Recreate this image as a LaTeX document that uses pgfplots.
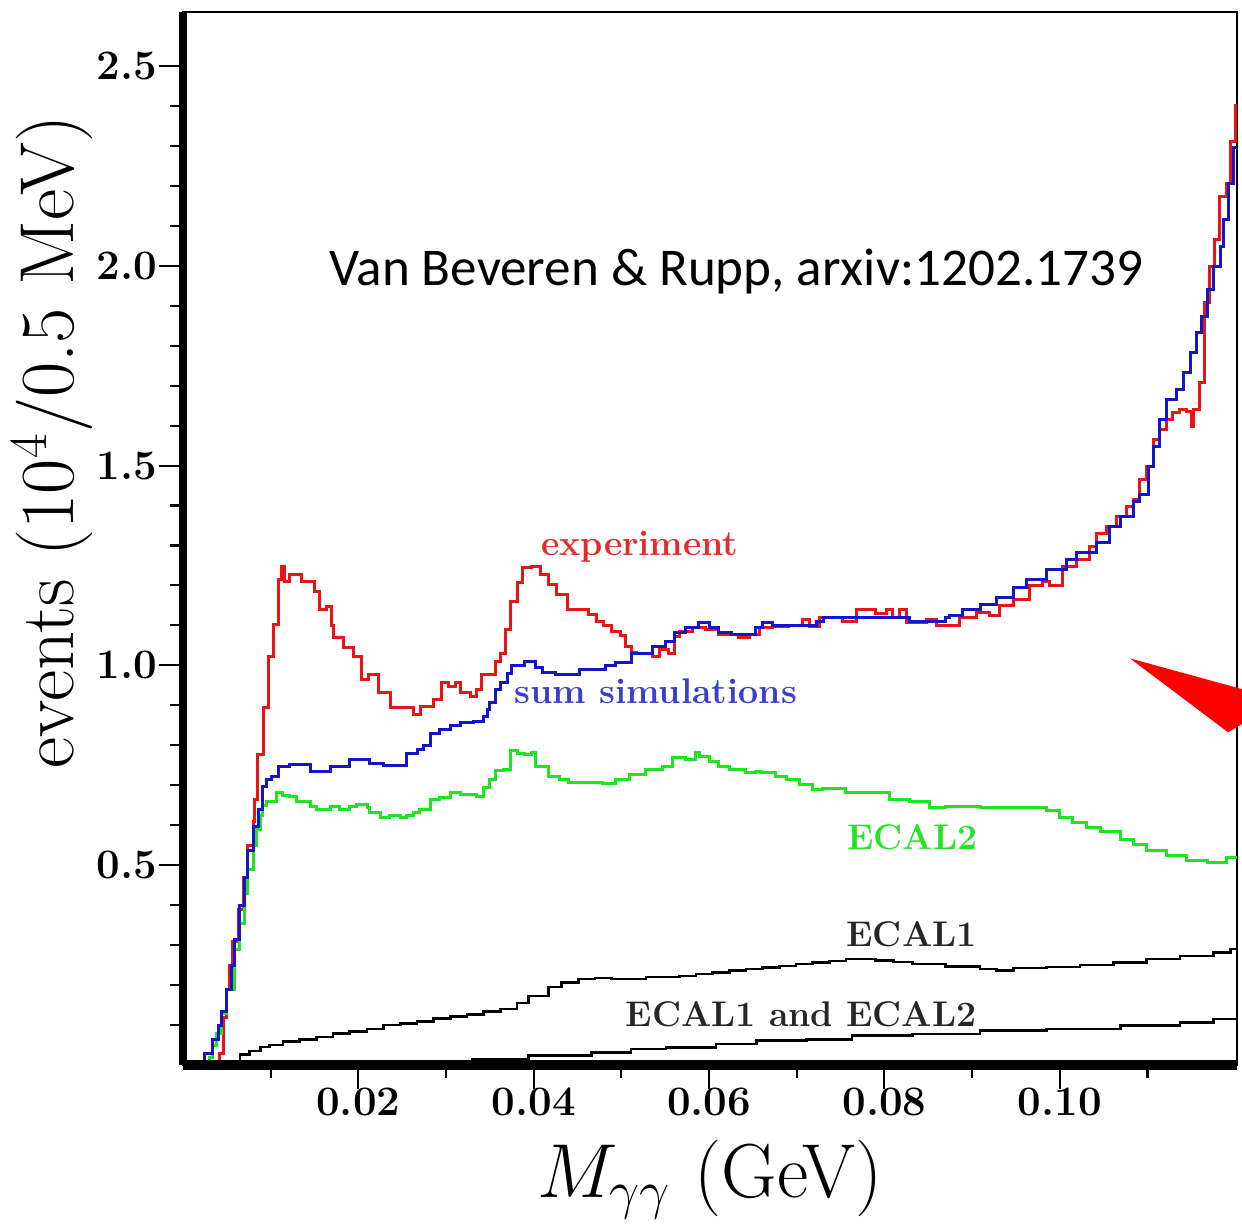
\RequirePackage{fix-cm}
\documentclass[border=0pt]{standalone}
\usepackage{fontspec}
\usepackage{pgfplots}
\pgfplotsset{compat=1.18}
\newfontfamily\calibri{Carlito}
\definecolor{expred}{RGB}{235,20,20}
\definecolor{simblue}{RGB}{20,20,200}
\definecolor{ecalgreen}{RGB}{30,230,30}
\definecolor{labred}{RGB}{225,45,45}
\definecolor{labblue}{RGB}{55,65,205}
\definecolor{labgreen}{RGB}{40,225,40}
\begin{document}
\begin{tikzpicture}
\begin{axis}[
  scale only axis, width=351.3pt, height=351pt,
  xmin=0, xmax=120.2, ymin=0, ymax=2.635,
  clip=false,
  axis line style={line width=0.7pt},
  tick pos=left, tick align=outside,
  xtick={20,40,60,80,100}, xticklabels={0.02,0.04,0.06,0.08,0.10},
  minor xtick={10,30,50,70,90,110},
  ytick={0.5,1,1.5,2,2.5}, yticklabels={0.5,1.0,1.5,2.0,2.5},
  minor ytick={0.1,0.2,0.3,0.4,0.6,0.7,0.8,0.9,1.1,1.2,1.3,1.4,1.6,1.7,1.8,1.9,2.1,2.2,2.3,2.4},
  major tick length=8pt, minor tick length=4.2pt,
  tick style={line width=0.7pt, black},
  tick label style={font=\fontsize{14}{16}\selectfont\bfseries},
  xticklabel style={yshift=4pt},
  yticklabel style={xshift=3pt},
  xlabel={$M_{\gamma\gamma}$ (GeV)},
  ylabel={events (10$^4$/0.5 MeV)},
  label style={font=\fontsize{25.5}{30}\selectfont},
  xlabel style={at={(axis description cs:0.5,-0.109)}, anchor=center},
  ylabel style={at={(axis description cs:-0.124,0.592)}, anchor=center},
]
% experiment
\addplot[const plot mark left, expred, line width=1pt] coordinates {
(0,0) (4.2,0.03) (4.6,0.12) (5.0,0.19) (5.3,0.25) (5.7,0.31) (6.3,0.39) (6.9,0.47) (7.4,0.55) (8.0,0.61) (8.2,0.665) (8.46,0.778) (9.14,0.894) (9.71,1.023) (10.29,1.103) (10.86,1.215) (11.24,1.248) (11.62,1.21) (12.19,1.228) (13.52,1.21) (15.05,1.186) (15.62,1.14) (16.38,1.148) (16.95,1.10) (17.14,1.069) (18.29,1.044) (19.43,1.023) (20.38,0.965) (21.14,0.978) (22.29,0.932) (23.62,0.894) (26.29,0.877) (27.05,0.898) (28.57,0.915) (29.52,0.957) (30.29,0.948) (31.05,0.957) (31.62,0.932) (32.76,0.923) (33.52,0.94) (34.1,0.978) (35.62,1.01) (36.19,1.03) (36.76,1.09) (37.33,1.161) (38.1,1.207) (38.67,1.244) (39.8,1.248) (40.8,1.2275) (41.7,1.2025) (42.6,1.1775) (43.8,1.14) (46.3,1.1275) (47.2,1.11) (48,1.10) (48.9,1.086) (49.9,1.075) (50.5,1.048) (51.1,1.032) (51.7,1.03) (53.5,1.023) (54.3,1.04) (55.4,1.03) (56,1.073) (56.6,1.085) (58.1,1.095) (59.6,1.09) (61.1,1.0775) (63.4,1.07) (64.6,1.0775) (65.7,1.095) (67.2,1.098) (69.1,1.10) (70.6,1.115) (71.4,1.098) (72.6,1.12) (75.2,1.11) (76.8,1.14) (79,1.13) (80.2,1.14) (80.9,1.12) (81.7,1.14) (82.5,1.107) (84.8,1.115) (85.9,1.10) (88.6,1.12) (90.5,1.132) (92,1.125) (93.1,1.15) (94.7,1.165) (96.5,1.2) (98,1.21) (98.8,1.2) (100.3,1.248) (101.9,1.265) (103.4,1.298) (104.2,1.33) (105.3,1.348) (106.5,1.373) (107.6,1.398) (108.4,1.415) (109.1,1.465) (109.9,1.498) (110.7,1.565) (111.4,1.59) (112.2,1.615) (112.9,1.632) (113.7,1.64) (114.5,1.635) (115.0,1.598) (115.2,1.64) (115.9,1.707) (116.5,1.907) (117.1,1.998) (117.6,2.065) (118.2,2.173) (119,2.207) (119.5,2.31) (120,2.40) (120.2,2.40)
};
% ECAL2
\addplot[const plot mark left, ecalgreen, line width=1pt] coordinates {
(0,0) (3.0,0.02) (3.4,0.05) (3.8,0.08) (4.4,0.13) (5.0,0.19) (5.9,0.29) (6.5,0.355) (7.0,0.43) (7.4,0.49) (8.0,0.55) (8.4,0.59) (8.8,0.625) (9.1,0.65) (9.5,0.66) (10.7,0.682) (11.4,0.675) (12.2,0.673) (13.0,0.66) (14.5,0.648) (15.2,0.64) (16.8,0.648) (17.9,0.64) (19.0,0.648) (19.8,0.652) (21.0,0.645) (21.3,0.632) (22.5,0.62) (23.6,0.625) (24.8,0.62) (25.5,0.625) (26.3,0.632) (27.0,0.64) (28.2,0.665) (29.3,0.67) (30.5,0.682) (31.6,0.676) (33.5,0.673) (34.3,0.694) (35.0,0.715) (35.6,0.736) (36.6,0.74) (37.3,0.786) (38.1,0.78) (38.9,0.778) (39.8,0.782) (40.2,0.748) (41.7,0.723) (42.9,0.715) (44.0,0.707) (47.8,0.705) (49.3,0.715) (50.9,0.727) (52.8,0.74) (54.7,0.748) (55.8,0.769) (57.3,0.765) (58.5,0.782) (58.9,0.772) (60.0,0.76) (61.1,0.748) (62.3,0.74) (64.2,0.732) (65.3,0.735) (66.0,0.732) (67.6,0.723) (68.8,0.715) (70.3,0.702) (71.8,0.69) (72.9,0.692) (75.6,0.682) (80.6,0.665) (82.9,0.66) (85.1,0.645) (87.0,0.648) (90.9,0.645) (94.7,0.645) (98.5,0.637) (100.0,0.62) (101.5,0.607) (103.0,0.595) (104.6,0.585) (106.9,0.565) (108.4,0.552) (109.9,0.536) (112.2,0.523) (114.5,0.511) (116.8,0.507) (119.0,0.52) (120.2,0.52)
};
% sum simulations
\addplot[const plot mark left, simblue, line width=1pt] coordinates {
(0,0) (2.5,0.03) (3.4,0.065) (4.0,0.098) (4.4,0.135) (5.0,0.19) (5.5,0.25) (5.9,0.315) (6.5,0.398) (7.0,0.469) (7.4,0.536) (8.0,0.598) (8.6,0.64) (9.1,0.698) (9.5,0.715) (10.1,0.723) (10.9,0.748) (12.2,0.752) (14.5,0.735) (16.8,0.748) (19.0,0.765) (21.3,0.755) (22.9,0.75) (25.5,0.78) (26.7,0.79) (27.4,0.80) (28.2,0.83) (29.3,0.84) (30.5,0.85) (31.6,0.856) (33.1,0.86) (34.3,0.873) (34.7,0.89) (35.0,0.907) (35.6,0.94) (36.2,0.957) (37.0,0.98) (37.5,1.0) (38.9,1.01) (40.2,0.994) (40.95,0.982) (42.5,0.978) (45.2,0.99) (48.2,1.0) (49.3,1.007) (51.2,1.03) (53.5,1.048) (55,1.06) (56,1.082) (57.3,1.095) (58.8,1.107) (60,1.095) (61.1,1.082) (62.6,1.078) (65.3,1.095) (66.1,1.107) (67.2,1.10) (72.2,1.11) (73,1.12) (79.4,1.12) (82.9,1.111) (87,1.12) (87.4,1.125) (88.9,1.14) (90.9,1.152) (92.8,1.17) (94.7,1.195) (96.2,1.215) (98.5,1.24) (100.8,1.265) (101.9,1.2825) (104.2,1.307) (105.7,1.348) (106.9,1.373) (108.4,1.41) (109.1,1.427) (110.1,1.498) (110.7,1.548) (111.4,1.615) (112.2,1.665) (113.3,1.69) (114.1,1.732) (114.9,1.782) (115.6,1.832) (116.2,1.873) (116.8,1.94) (117.5,1.998) (118.3,2.048) (118.7,2.115) (119.2,2.207) (119.8,2.295) (120.2,2.295)
};
% ECAL1
\addplot[const plot mark left, black, line width=0.9pt] coordinates {
(0,0) (5.7,0.01) (6.5,0.026) (7.6,0.035) (8.8,0.045) (9.9,0.05) (11.4,0.058) (13.3,0.063) (15.2,0.07) (17.1,0.0785) (19.0,0.083) (21.0,0.09) (22.9,0.1) (24.8,0.104) (26.7,0.109) (28.6,0.117) (30.5,0.121) (32.4,0.126) (34.3,0.133) (36.2,0.14) (38.1,0.155) (39.4,0.173) (41.7,0.195) (43.2,0.207) (45.1,0.215) (47,0.218) (48.9,0.215) (50.9,0.215) (52.8,0.22) (56.6,0.223) (58.5,0.228) (60.4,0.232) (62.3,0.236) (64.2,0.24) (66.1,0.244) (68,0.248) (69.9,0.2525) (71.8,0.256) (73.7,0.26) (75.6,0.265) (79,0.262) (81,0.258) (83.2,0.2525) (87,0.247) (90.9,0.24) (92.8,0.236) (94.7,0.243) (98.5,0.245) (102.3,0.25) (106.1,0.257) (109.9,0.265) (113.7,0.273) (117.5,0.282) (119.5,0.29) (120.2,0.29)
};
% ECAL1 and ECAL2
\addplot[const plot mark left, black, line width=0.9pt] coordinates {
(0,0) (10,0.003) (20,0.006) (30,0.01) (33,0.015) (39.4,0.023) (46.6,0.032) (51.1,0.04) (55.1,0.044) (60.8,0.0525) (65.4,0.061) (71.1,0.063) (76.3,0.073) (83.2,0.0775) (90.9,0.086) (98.5,0.09) (106.9,0.098) (113.7,0.107) (117.5,0.115) (120.2,0.115)
};
% thick left and bottom spines
\draw[line width=3.3pt] (rel axis cs:0,0) -- (rel axis cs:1,0);
\draw[line width=2.7pt] (rel axis cs:0,0) -- (rel axis cs:0,1);
% annotations
\node[labred, font=\fontsize{11.9}{13}\selectfont\bfseries] at (axis cs:52.1,1.2975) {experiment};
\node[labblue, font=\fontsize{11.9}{13}\selectfont\bfseries] at (axis cs:53.9,0.935) {sum simulations};
\node[labgreen, font=\fontsize{11.9}{13}\selectfont\bfseries] at (axis cs:83.2,0.57) {ECAL2};
\node[black!85, font=\fontsize{11.9}{13}\selectfont\bfseries] at (axis cs:83.1,0.3275) {ECAL1};
\node[black!85, font=\fontsize{11.9}{13}\selectfont\bfseries] at (axis cs:70.5,0.1275) {ECAL1 and ECAL2};
\node[black, font=\calibri\fontsize{17.7}{20}\selectfont] at (axis cs:63.1,1.985) {Van Beveren \& Rupp, arxiv:1202.1739};
% red arrow
\fill[red] (axis cs:108.0,1.0175) -- (axis cs:121.7,0.935) -- (axis cs:121.7,0.865) -- (axis cs:119.2,0.8325) -- cycle;
\coordinate (bl) at (rel axis cs:0,0);
\coordinate (tr) at (rel axis cs:1,1);
\end{axis}
\pgfresetboundingbox
\path[use as bounding box] ([xshift=-61pt,yshift=-53.3pt]bl) rectangle ([xshift=1.7pt,yshift=4pt]tr);
\end{tikzpicture}
\end{document}
